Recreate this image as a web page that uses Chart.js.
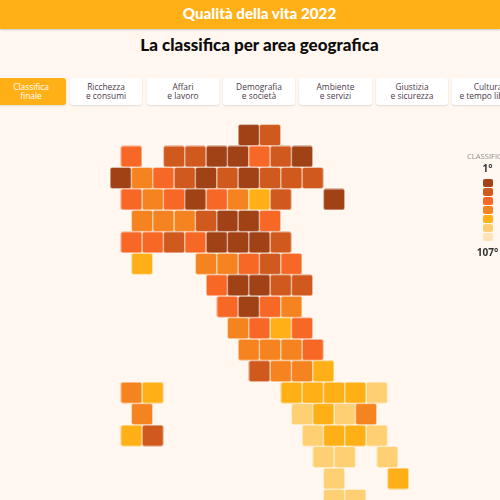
<!DOCTYPE html>
<html lang="it">
<head>
<meta charset="utf-8">
<title>Qualità della vita 2022</title>
<script src="https://cdn.jsdelivr.net/npm/chart.js@4/dist/chart.umd.min.js"></script>
<style>
  html, body { margin: 0; padding: 0; width: 500px; height: 500px; overflow: hidden; background: #fff7f0; font-family: "Open Sans", sans-serif; }
  #bar { position: absolute; left: 0; top: 0; width: 500px; height: 29px; background: #ffb017; box-shadow: 0 1px 2px rgba(0,0,0,.2); }
  #bar span { position: absolute; left: 0; top: 0; width: 519px; line-height: 27px; color: #fff; font-family: Lato, sans-serif; font-weight: 900; font-size: 15.2px; text-align: center; }
  #title { position: absolute; left: 0; top: 34px; width: 519px; text-align: center; font-family: Lato, sans-serif; font-weight: 900; font-size: 17px; line-height: 22px; color: #0d0d0d; }
  .tab { position: absolute; top: 78px; height: 27px; background: #fff; border-radius: 3px; box-shadow: 0 1px 2px rgba(0,0,0,.12); font-size: 8.4px; line-height: 8.5px; padding-top: 5px; box-sizing: border-box; color: #4a3a4a; text-align: center; white-space: nowrap; overflow: hidden; }
  .tab.on { background: #ffb017; color: #fff; }
  #chart { position: absolute; left: 0; top: 0; }
  #legend-title { position: absolute; left: 467px; top: 151px; font-size: 7.6px; color: #8f8f8f; white-space: nowrap; }
  .legend-label { position: absolute; left: 467px; width: 41px; text-align: center; font-size: 10px; font-weight: 700; color: #333; }
  .swatch { position: absolute; left: 483px; width: 10px; height: 8px; border-radius: 2px; }
</style>
</head>
<body>
<div id="bar"><span>Qualità della vita 2022</span></div>
<div id="title">La classifica per area geografica</div>
<div id="tabs"></div>
<canvas id="chart" width="500" height="500"></canvas>
<div id="legend-title">CLASSIFICA</div>
<div class="legend-label" style="top:161px">1°</div>
<div class="legend-label" style="top:245px">107°</div>
<div id="legend"></div>
<script>
// Fasce di classifica, dalla migliore alla peggiore
const bandColors = ['#a04116', '#d05a1e', '#f76826', '#f58420', '#ffb017', '#ffcf73', '#ffe3b5'];

// Griglia: colonna (a mezzi passi), riga e fascia di ogni provincia
const gridCols = [
  12, 14,
  1, 5, 7, 9, 11, 13, 15, 17,
  0, 2, 4, 6, 8, 10, 12, 14, 16, 18,
  1, 3, 5, 7, 9, 11, 13, 15, 20,
  2, 4, 6, 8, 10, 12, 14,
  1, 3, 5, 7, 9, 11, 13, 15,
  2, 8, 10, 12, 14, 16,
  9, 11, 13, 15, 17,
  10, 12, 14, 16,
  11, 13, 15, 17,
  12, 14, 16, 18,
  13, 15, 17, 19,
  1, 3, 16, 18, 20, 22, 24,
  2, 17, 19, 21, 23,
  1, 3, 18, 20, 22, 24,
  19, 21, 25,
  20, 26,
  20, 22
];
const gridRows = [
  0, 0,
  1, 1, 1, 1, 1, 1, 1, 1,
  2, 2, 2, 2, 2, 2, 2, 2, 2, 2,
  3, 3, 3, 3, 3, 3, 3, 3, 3,
  4, 4, 4, 4, 4, 4, 4,
  5, 5, 5, 5, 5, 5, 5, 5,
  6, 6, 6, 6, 6, 6,
  7, 7, 7, 7, 7,
  8, 8, 8, 8,
  9, 9, 9, 9,
  10, 10, 10, 10,
  11, 11, 11, 11,
  12, 12, 12, 12, 12, 12, 12,
  13, 13, 13, 13, 13,
  14, 14, 14, 14, 14, 14,
  15, 15, 15,
  16, 16,
  17, 17
];
const gridBands = [
  0, 1,
  2, 1, 1, 0, 0, 2, 1, 0,
  0, 3, 2, 1, 0, 1, 0, 1, 1, 1,
  2, 3, 2, 0, 2, 3, 4, 1, 0,
  3, 3, 3, 1, 0, 0, 2,
  2, 2, 1, 2, 0, 0, 0, 1,
  4, 3, 3, 2, 1, 2,
  2, 0, 0, 1, 1,
  2, 0, 2, 3,
  3, 2, 4, 2,
  3, 3, 3, 2,
  1, 3, 3, 4,
  3, 4, 4, 4, 4, 4, 5,
  3, 5, 4, 5, 3,
  4, 1, 5, 4, 4, 5,
  5, 5, 5,
  5, 4,
  5, 5
];

const tabLabels = ['Classifica<br>finale', 'Ricchezza<br>e consumi', 'Affari<br>e lavoro', 'Demografia<br>e società', 'Ambiente<br>e servizi', 'Giustizia<br>e sicurezza', 'Cultura<br>e tempo libero'];
const tabLeft = [-4, 70, 147, 223, 299, 376, 452];
const tabWidth = [70, 72, 72, 72, 73, 72, 72];

tabLabels.forEach(function (label, i) {
  const tab = document.createElement('div');
  tab.className = i === 0 ? 'tab on' : 'tab';
  tab.style.left = tabLeft[i] + 'px';
  tab.style.width = tabWidth[i] + 'px';
  tab.innerHTML = label;
  document.getElementById('tabs').appendChild(tab);
});

bandColors.forEach(function (color, i) {
  const swatch = document.createElement('div');
  swatch.className = 'swatch';
  swatch.style.top = (179 + i * 8.95) + 'px';
  swatch.style.background = color;
  document.getElementById('legend').appendChild(swatch);
});

// Quadratino arrotondato usato come pointStyle
function makeSquare(color) {
  const c = document.createElement('canvas');
  c.width = 22;
  c.height = 22;
  const g = c.getContext('2d');
  g.beginPath();
  g.roundRect(0.5, 0.5, 21, 21, 2);
  g.fillStyle = color;
  g.fill();
  g.strokeStyle = 'rgba(255,255,255,0.35)';
  g.lineWidth = 1;
  g.stroke();
  return c;
}
const squares = bandColors.map(makeSquare);

const points = gridCols.map(function (col, i) {
  return { x: col, y: gridRows[i] };
});

new Chart(document.getElementById('chart').getContext('2d'), {
  type: 'scatter',
  data: {
    datasets: [{
      data: points,
      pointStyle: gridBands.map(function (b) { return squares[b]; }),
      pointRadius: 10,
      pointHoverRadius: 10
    }]
  },
  options: {
    responsive: false,
    animation: false,
    layout: { padding: 0, autoPadding: false },
    plugins: { legend: { display: false }, tooltip: { enabled: false } },
    scales: {
      x: { type: 'linear', display: false, min: -11.31, max: 35.55 },
      y: { type: 'linear', display: false, reverse: true, min: -6.288, max: 17 }
    }
  }
});
</script>
</body>
</html>
